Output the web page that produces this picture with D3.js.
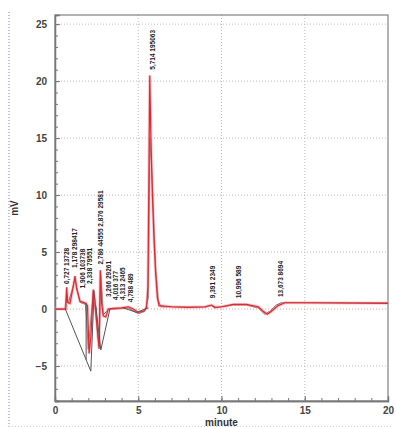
<!DOCTYPE html>
<html>
<head>
<meta charset="utf-8">
<script src="https://cdn.jsdelivr.net/npm/d3@7"></script>
<style>
  body { margin: 0; background: #fff; }
  svg { display: block; font-family: 'Liberation Sans', Arial, sans-serif; }
</style>
</head>
<body>
<svg id="chart" width="396" height="427"></svg>
<script>
// red trace (signal), minutes / mV
const redT = [0, 0.65, 0.7, 0.75, 0.9, 1.1, 1.2, 1.3, 1.5, 1.85, 1.95, 2.05, 2.15, 2.3, 2.4, 2.55, 2.65, 2.72, 2.8, 2.9, 3.05, 3.2, 3.5, 4.0, 4.4, 4.7, 5.0, 5.3, 5.5, 5.58, 5.63, 5.69, 5.76, 5.85, 5.95, 6.05, 6.15, 6.25, 7, 8, 9, 9.4, 9.6, 10, 10.7, 11.5, 12.2, 12.5, 12.75, 13, 13.4, 13.8, 15, 20]
const redV = [0, 0, 1.9, 0.6, 0.5, 2.0, 2.9, 1.8, 0.7, 0.5, 0.3, -3.9, -2.5, 1.7, 0.8, -2, -3.5, 3.4, 0.5, -0.6, -0.7, 0, 0.05, 0.1, 0.2, 0, -0.3, -0.2, 0.1, 2, 10, 20.5, 15, 10, 6, 3, 1, 0.3, 0.2, 0.15, 0.2, 0.35, 0.15, 0.2, 0.4, 0.4, 0.2, -0.2, -0.45, -0.2, 0.3, 0.55, 0.55, 0.5]

// black trace
const blackT = [0, 0.6, 0.7, 0.8, 1.2, 1.5, 1.85, 2.0, 2.3, 2.65, 2.75, 2.9, 3.2, 4.0, 4.4, 5.0, 5.4, 5.6, 5.7, 5.82, 5.95, 6.05, 6.2, 6.35, 9, 9.4, 9.6, 10.7, 11.5, 12.2, 12.6, 12.9, 13.3, 13.6, 20]
const blackV = [0, 0, 1.5, 0.5, 2.6, 0.6, 0.4, -3.5, 1.5, -3.3, 3.0, -0.5, -0.05, 0.05, 0.1, -0.4, -0.2, 1, 15, 12, 7, 3.5, 0.8, 0.2, 0.15, 0.3, 0.1, 0.35, 0.35, 0.1, -0.45, -0.2, 0.35, 0.55, 0.55]

// integration baselines and drop lines
const baseLines = [
  [[0.62, 0], [2.15, -5.45], [2.35, 1.6]],
  [[2.45, 0.3], [2.75, -3.6], [3.3, 0]],
  [[1.87, 0.5], [1.87, -4.45]],
  [[4.1, 0.1], [4.9, -0.3], [5.6, 0.1]],
]

// peak annotations
const peakT = [0.84, 1.34, 1.8, 2.24, 2.89, 3.34, 3.81, 4.23, 4.69, 6.0, 9.6, 11.16, 13.67]
const peakH = [2.2, 3.6, 1.8, 2.2, 3.9, 1.05, 0.8, 0.8, 0.6, 21.0, 0.95, 0.95, 1.05]
const peakLabels = ['0,727 13728', '1,178 298417', '1,906 103738', '2,338 79551', '2,786 44555 2,876 29581', '3,266 29261', '4,016 377', '4,313 2465', '4,788 489', '5,714 195063', '9,391 2349', '10,996 589', '13,673 8694']

const xTicks = [0, 5, 10, 15, 20]
const yTicks = [-5, 0, 5, 10, 15, 20, 25]

const svg = d3.select('#chart')
const mLeft = 55, mRight = 388, mTop = 15, mBottom = 401

const x = d3.scaleLinear().domain([0, 20]).range([mLeft, mRight])
const y = d3.scaleLinear().domain([-8.07, 25.8]).range([mBottom, mTop])

// blue dotted page edge
svg.append('line').attr('x1', 9).attr('x2', 9).attr('y1', 12).attr('y2', 427)
  .attr('stroke', '#7d7dd0').attr('stroke-dasharray', '1,2')
svg.append('line').attr('x1', 9).attr('x2', 392).attr('y1', 426.5).attr('y2', 426.5)
  .attr('stroke', '#c8c8e8').attr('stroke-dasharray', '1,2')

// grid
svg.append('g').selectAll('line').data(yTicks).enter().append('line')
  .attr('x1', mLeft).attr('x2', mRight)
  .attr('y1', (d) => y(d)).attr('y2', (d) => y(d))
  .attr('stroke', (d) => (d === 0 ? '#e8a0a0' : '#bbb'))
  .attr('stroke-dasharray', '1,2')
svg.append('g').selectAll('line').data(xTicks.slice(1, -1)).enter().append('line')
  .attr('x1', (d) => x(d)).attr('x2', (d) => x(d))
  .attr('y1', mTop).attr('y2', mBottom)
  .attr('stroke', '#bbb').attr('stroke-dasharray', '1,2')

// frame
svg.append('rect').attr('x', mLeft).attr('y', mTop)
  .attr('width', mRight - mLeft).attr('height', mBottom - mTop)
  .attr('fill', 'none').attr('stroke', '#8a8a8a').attr('stroke-width', 1.3)

// axes, ticks pointing inwards
const xAxis = svg.append('g').attr('transform', 'translate(0,' + mBottom + ')')
xAxis.call(d3.axisBottom(x).tickValues(d3.range(0, 21, 1)).tickSize(-3).tickFormat(''))
xAxis.append('g').call(d3.axisBottom(x).tickValues(xTicks).tickSize(-5).tickPadding(6))
const yAxis = svg.append('g').attr('transform', 'translate(' + mLeft + ',0)')
yAxis.call(d3.axisLeft(y).tickValues(d3.range(-8, 26, 1)).tickSize(-3).tickFormat(''))
yAxis.append('g').call(d3.axisLeft(y).tickValues(yTicks).tickSize(-5).tickPadding(8))

svg.selectAll('.domain').attr('stroke', '#777').attr('stroke-width', 1.3)
svg.selectAll('.tick line').attr('stroke', '#777')
svg.selectAll('.tick text').attr('font-size', 10).attr('font-weight', 'bold')
  .attr('fill', '#444').attr('font-family', "'Liberation Sans', Arial, sans-serif")

// axis titles
svg.append('text').attr('x', x(10)).attr('y', 425.5).attr('text-anchor', 'middle')
  .attr('font-size', 10).attr('font-weight', 'bold').attr('fill', '#333').text('minute')
svg.append('text').attr('transform', 'translate(18,208) rotate(-90)').attr('text-anchor', 'middle')
  .attr('font-size', 10).attr('font-weight', 'bold').attr('fill', '#333').text('mV')

const line = d3.line().x((d) => x(d[0])).y((d) => y(d[1]))
const red = redT.map((t, i) => [t, redV[i]])
const black = blackT.map((t, i) => [t, blackV[i]])

// traces
svg.append('path').datum(black).attr('d', line)
  .attr('fill', 'none').attr('stroke', '#3a3a3a').attr('stroke-width', 1)
svg.append('path').datum(red).attr('d', line)
  .attr('fill', 'none').attr('stroke', '#f5a3aa').attr('stroke-width', 3).attr('opacity', 0.6)
svg.append('path').datum(red).attr('d', line)
  .attr('fill', 'none').attr('stroke', '#e3262f').attr('stroke-width', 1.2)
svg.append('g').selectAll('path').data(baseLines).enter().append('path')
  .attr('d', line).attr('fill', 'none').attr('stroke', '#555').attr('stroke-width', 1)

// peak labels
svg.append('g').selectAll('text').data(peakLabels).enter().append('text')
  .attr('transform', (d, i) => 'translate(' + (x(peakT[i])) + ',' + (y(peakH[i])) + ') rotate(-90)')
  .attr('font-size', 6.5).attr('font-weight', 'bold').attr('fill', '#222')
  .text((d) => d)
</script>
</body>
</html>
